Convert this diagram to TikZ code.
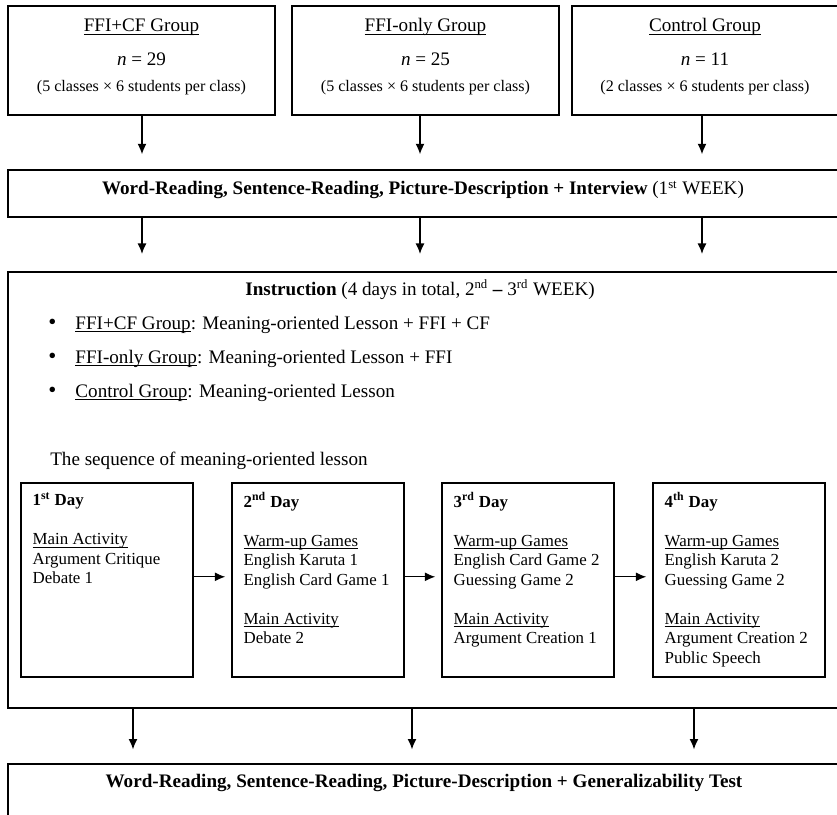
\documentclass[tikz,border=0pt]{standalone}
\usepackage{fontspec}
\setmainfont{Liberation Serif}
\usetikzlibrary{arrows.meta,positioning,fit}
\newcommand{\uln}[1]{\underline{\smash{#1}}}
\tikzset{box/.style={draw,line width=0.8pt,inner sep=0pt},
  arr/.style={line width=0.8pt,-{Latex[length=6.5pt,width=5.6pt]},shorten >=9.5pt},
  grouptitle/.style={inner sep=0pt,font=\fontsize{12}{14}\selectfont},
  smalltext/.style={inner sep=0pt,font=\fontsize{10.1}{12}\selectfont},
  bodytext/.style={inner sep=0pt,anchor=west,font=\fontsize{12}{14}\selectfont},
  daytext/.style={align=left,inner sep=0pt,anchor=north west,font=\fontsize{10.6}{12.25}\selectfont}}

\begin{document}
\begin{tikzpicture}[x=0.628pt,y=-0.628pt]
		\clip (0,0) rectangle (837,815);
		% three groups
		\node[box,fit={(8,6) (275,115)}] (ffi) {};
		\node[box,fit={(292,6) (559,115)}] (only) {};
		\node[box,fit={(572,6) (842,115)}] (ctrl) {};
		\node[grouptitle,anchor=base] (ffiname) at (141.5,32) {\uln{FFI+CF Group}};
		\node[grouptitle] (ffin) at (141.5,59) {\textit{n} = 29};
		\node[smalltext] (ffisize) at (141.5,88) {(5 classes × 6 students per class)};
		\node[grouptitle,anchor=base] (onlyname) at (425.5,32) {\uln{FFI-only Group}};
		\node[grouptitle] (onlyn) at (425.5,59) {\textit{n} = 25};
		\node[smalltext] (onlysize) at (425.5,88) {(5 classes × 6 students per class)};
		\node[grouptitle,anchor=base] (ctrlname) at (705,32) {\uln{Control Group}};
		\node[grouptitle] (ctrln) at (705,59) {\textit{n} = 11};
		\node[smalltext] (ctrlsize) at (705,88) {(2 classes × 6 students per class)};
		% pre-test
		\node[box,fit={(8,170) (842,217)}] (pre) {};
		\node[grouptitle] (pretext) at (423,190) {\textbf{Word-Reading, Sentence-Reading, Picture-Description + Interview} (1\textsuperscript{st} WEEK)};
		\coordinate (c1) at (142,0);
		\coordinate (c2) at (420,0);
		\coordinate (c3) at (702,0);
		\draw[arr] (ffi.south -| c1) -- (pre.north -| c1);
		\draw[arr] (only.south -| c2) -- (pre.north -| c2);
		\draw[arr] (ctrl.south -| c3) -- (pre.north -| c3);
		% instruction
		\node[box,fit={(8,272) (842,708)}] (instr) {};
		\draw[arr,shorten >=11pt] (pre.south -| c1) -- (instr.north -| c1);
		\draw[arr,shorten >=11pt] (pre.south -| c2) -- (instr.north -| c2);
		\draw[arr,shorten >=11pt] (pre.south -| c3) -- (instr.north -| c3);
		\node[grouptitle] (instrhead) at (420,290) {\textbf{Instruction} (4 days in total, 2\textsuperscript{nd} \textbf{--} 3\textsuperscript{rd} WEEK)};
		\node[bodytext] (item1) at (48,325) {{\Large\textbullet}\hspace{12pt}\uln{FFI+CF Group}: Meaning-oriented Lesson + FFI + CF};
		\node[bodytext] (item2) at (48,359) {{\Large\textbullet}\hspace{12pt}\uln{FFI-only Group}: Meaning-oriented Lesson + FFI};
		\node[bodytext] (item3) at (48,393) {{\Large\textbullet}\hspace{12pt}\uln{Control Group}: Meaning-oriented Lesson};
		\node[bodytext] (seqhead) at (50,461) {The sequence of meaning-oriented lesson};
		% four days
		\node[box,fit={(21,483) (193,677)}] (day1) {};
		\node[box,fit={(232,483) (404,677)}] (day2) {};
		\node[box,fit={(442,483) (614,677)}] (day3) {};
		\node[box,fit={(653,483) (825,677)}] (day4) {};
		\node[daytext] (day1text) at ([shift={(12,10)}]day1.north west) {\textbf{1\textsuperscript{st} Day}\\[12.25pt]
			\uln{Main Activity}\\ Argument Critique\\ Debate 1};
		\node[daytext] (day2text) at ([shift={(12,10)}]day2.north west) {\textbf{2\textsuperscript{nd} Day}\\[12.25pt]
			\uln{Warm-up Games}\\ English Karuta 1\\ English Card Game 1\\[12.25pt]
			\uln{Main Activity}\\ Debate 2};
		\node[daytext] (day3text) at ([shift={(12,10)}]day3.north west) {\textbf{3\textsuperscript{rd} Day}\\[12.25pt]
			\uln{Warm-up Games}\\ English Card Game 2\\ Guessing Game 2\\[12.25pt]
			\uln{Main Activity}\\ Argument Creation 1};
		\node[daytext] (day4text) at ([shift={(12,10)}]day4.north west) {\textbf{4\textsuperscript{th} Day}\\[12.25pt]
			\uln{Warm-up Games}\\ English Karuta 2\\ Guessing Game 2\\[12.25pt]
			\uln{Main Activity}\\ Argument Creation 2\\ Public Speech};
		\draw[arr,shorten >=3.8pt] ([yshift=2pt]day1.east) -- ([yshift=2pt]day2.west);
		\draw[arr,shorten >=3.8pt] ([yshift=2pt]day2.east) -- ([yshift=2pt]day3.west);
		\draw[arr,shorten >=3.8pt] ([yshift=2pt]day3.east) -- ([yshift=2pt]day4.west);
		% post-test
		\node[box,fit={(8,764) (842,840)}] (post) {};
		\node[grouptitle] (posttext) at (424,783) {\textbf{Word-Reading, Sentence-Reading, Picture-Description + Generalizability Test}};
		\coordinate (e1) at (133,0);
		\coordinate (e2) at (412,0);
		\coordinate (e3) at (694,0);
		\draw[arr,shorten >=8.8pt] (instr.south -| e1) -- (post.north -| e1);
		\draw[arr,shorten >=8.8pt] (instr.south -| e2) -- (post.north -| e2);
		\draw[arr,shorten >=8.8pt] (instr.south -| e3) -- (post.north -| e3);
\end{tikzpicture}
\end{document}
